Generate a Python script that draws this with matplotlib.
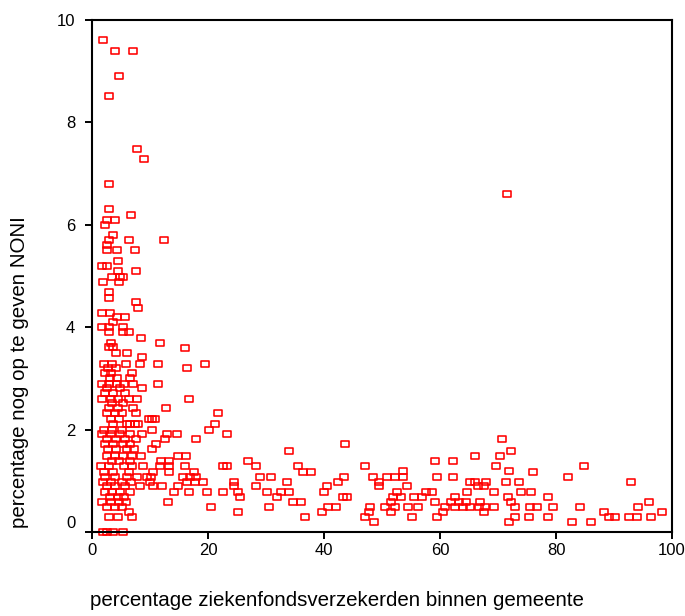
import matplotlib
matplotlib.use('Agg')
import matplotlib.pyplot as plt
import matplotlib.transforms as transforms
from matplotlib.path import Path

# percentage ziekenfondsverzekerden (x) vs percentage nog op te geven NONI (y)
x_left = [1.9, 4.0, 7.0, 4.7, 3.0, 7.7, 9.0, 3.0,
          3.0, 6.7, 2.5, 4.0, 2.2, 3.6, 2.9, 6.3, 12.4,
          2.5, 2.5, 4.3, 7.4, 4.4, 1.8, 2.6, 4.4, 7.6,
          3.4, 4.8, 5.4, 1.9, 4.7, 3.0, 3.0, 7.6, 8.0,
          1.8, 3.1, 4.3, 5.7, 3.7, 1.8, 3.0, 5.3,
          3.0, 5.3, 6.4, 8.4, 3.2, 11.7, 2.9, 3.7, 16.1,
          4.1, 6.0, 8.6]
y_left = [9.61, 9.4, 9.4, 8.9, 8.52, 7.49, 7.29, 6.8,
          6.3, 6.2, 6.1, 6.1, 6.0, 5.8, 5.7, 5.7, 5.7,
          5.6, 5.5, 5.5, 5.5, 5.3, 5.2, 5.2, 5.1, 5.1,
          4.98, 4.98, 4.98, 4.88, 4.88, 4.69, 4.57, 4.49, 4.38,
          4.28, 4.28, 4.19, 4.19, 4.1, 4.0, 4.0, 4.0,
          3.9, 3.9, 3.9, 3.79, 3.69, 3.69, 3.62, 3.62, 3.59,
          3.5, 3.5, 3.41]

# lower part, grouped by row (y value -> x values)
row_y = [3.29, 3.2, 3.1, 3.0, 2.9, 2.81, 2.71, 2.59, 2.51, 2.42, 2.32, 2.2,
         2.11, 2.0, 1.91, 1.81, 1.71, 1.62, 1.58, 1.48, 1.39, 1.28, 1.2, 1.18,
         1.08, 0.98, 0.89, 0.79, 0.69, 0.59, 0.49, 0.39, 0.3, 0.2, 0.0]
row_x = [
    [2.1, 3.4, 5.9, 8.3, 11.4, 19.4],
    [2.8, 4.1, 16.4],
    [2.3, 3.3, 6.9],
    [3.1, 4.3, 6.6],
    [1.8, 2.9, 4.3, 5.5, 7.1, 11.4],
    [2.5, 4.8, 8.6],
    [2.3, 3.7, 5.7],
    [1.8, 3.2, 4.4, 6.3, 7.7, 16.8],
    [3.4, 5.4],
    [3.0, 4.4, 7.1, 12.8],
    [2.5, 3.9, 5.1, 7.6, 21.8],
    [3.2, 4.6, 9.8, 10.3, 10.9],
    [3.7, 6.0, 6.6, 7.4, 7.9, 21.2],
    [2.1, 3.4, 5.1, 10.3, 20.1],
    [1.7, 3.2, 4.8, 6.6, 8.6, 13.0, 14.7, 23.2],
    [2.5, 4.1, 5.7, 7.5, 12.6, 17.9, 70.7],
    [2.3, 3.7, 5.3, 6.6, 11.0, 43.7],
    [2.8, 4.1, 6.1, 7.2, 10.3],
    [33.9, 72.3],
    [2.5, 3.9, 5.4, 6.9, 8.5, 14.9, 16.2, 66.0, 70.3],
    [3.4, 4.6, 6.6, 11.9, 13.3, 26.9, 59.2, 62.3],
    [1.5, 3.0, 5.5, 6.9, 8.8, 11.7, 13.2, 16.1, 22.6, 23.2, 28.3, 35.6,
     47.1, 69.7, 84.8],
    [53.6, 71.9],
    [2.1, 3.7, 6.4, 10.5, 13.2, 17.5, 36.3, 37.7, 76.0],
    [2.2, 3.9, 6.0, 7.8, 9.4, 10.2, 15.7, 16.9, 18.0, 29.0, 30.9, 43.4,
     48.4, 50.8, 52.2, 53.6, 59.5, 62.3, 82.1],
    [1.9, 3.3, 5.2, 6.7, 10.0, 16.3, 17.8, 19.2, 24.5, 33.7, 42.4, 49.4,
     65.2, 66.0, 67.9, 71.3, 73.7, 92.9],
    [2.6, 4.0, 5.7, 8.2, 10.5, 12.1, 14.9, 24.5, 28.3, 40.5, 49.4, 54.3,
     66.6, 67.5],
    [2.2, 3.4, 4.9, 6.6, 14.1, 16.8, 19.8, 22.5, 25.2, 30.2, 32.5, 34.0,
     40.0, 52.5, 57.5, 58.6, 64.6, 69.3, 74.0, 75.7],
    [3.1, 4.4, 5.6, 25.5, 31.9, 43.3, 43.9, 51.9, 53.2, 55.5, 56.9, 62.5,
     71.8, 78.7],
    [1.8, 3.3, 4.6, 5.9, 13.1, 34.6, 36.1, 51.6, 59.2, 61.9, 63.2, 64.5,
     66.9, 72.3, 96.0],
    [2.5, 3.9, 5.2, 20.5, 30.6, 40.7, 42.1, 47.9, 50.5, 52.2, 54.5, 56.2,
     60.9, 62.5, 64.0, 65.2, 66.7, 67.8, 69.3, 73.0, 75.5, 76.7, 79.4,
     84.1, 94.2],
    [6.3, 25.2, 39.7, 47.7, 51.5, 60.6, 67.6, 88.2, 98.3],
    [3.0, 4.4, 6.9, 36.7, 47.0, 55.2, 59.5, 73.0, 75.4, 78.7, 89.1, 90.2,
     92.5, 93.9, 96.3],
    [48.7, 71.9, 82.8, 86.1],
    [1.9, 2.5, 3.7, 5.3],
]

# outlier
x_out = [71.5]
y_out = [6.6]

xs = list(x_left) + x_out
ys = list(y_left) + y_out
for yv, xrow in zip(row_y, row_x):
    xs += xrow
    ys += [yv] * len(xrow)

plt.rc('font', family=['Liberation Sans', 'DejaVu Sans'], size=12)

fig = plt.figure(figsize=(6.85, 6.16), dpi=100)
ax = fig.add_axes([92 / 685, 1 - 532 / 616, 580 / 685, 512 / 616])

rect = Path([(-1, -0.78), (1, -0.78), (1, 0.78), (-1, 0.78), (-1, -0.78)],
            [Path.MOVETO, Path.LINETO, Path.LINETO, Path.LINETO, Path.CLOSEPOLY])
ax.plot(xs, ys, linestyle='none', marker=rect, markersize=5.2,
        markerfacecolor='none', markeredgecolor='#ff0000', markeredgewidth=1.15,
        clip_on=False)

ax.set_xlim(0, 100)
ax.set_ylim(0, 10)
ax.set_xticks([0, 20, 40, 60, 80, 100])
ax.set_yticks([0, 2, 4, 6, 8, 10])
for s in ax.spines.values():
    s.set_linewidth(1.5)
ax.tick_params(direction='out', length=5, width=1.4, labelsize=12)
ax.tick_params(axis='x', pad=3)
ax.tick_params(axis='y', pad=7)

# the 0 label on the y axis sits a bit above its tick
lab0 = ax.yaxis.get_major_ticks()[0].label1
lab0.set_transform(lab0.get_transform() +
                   transforms.ScaledTranslation(0, 0.1, fig.dpi_scale_trans))

fig.text(90 / 685, 1 - 601 / 616, 'percentage ziekenfondsverzekerden binnen gemeente',
         ha='left', va='center', fontsize=14.8)
fig.text(20 / 685, 1 - 528 / 616, 'percentage nog op te geven NONI',
         ha='center', va='bottom', rotation=90, fontsize=14.8)

fig.savefig('out.png', dpi=100)
